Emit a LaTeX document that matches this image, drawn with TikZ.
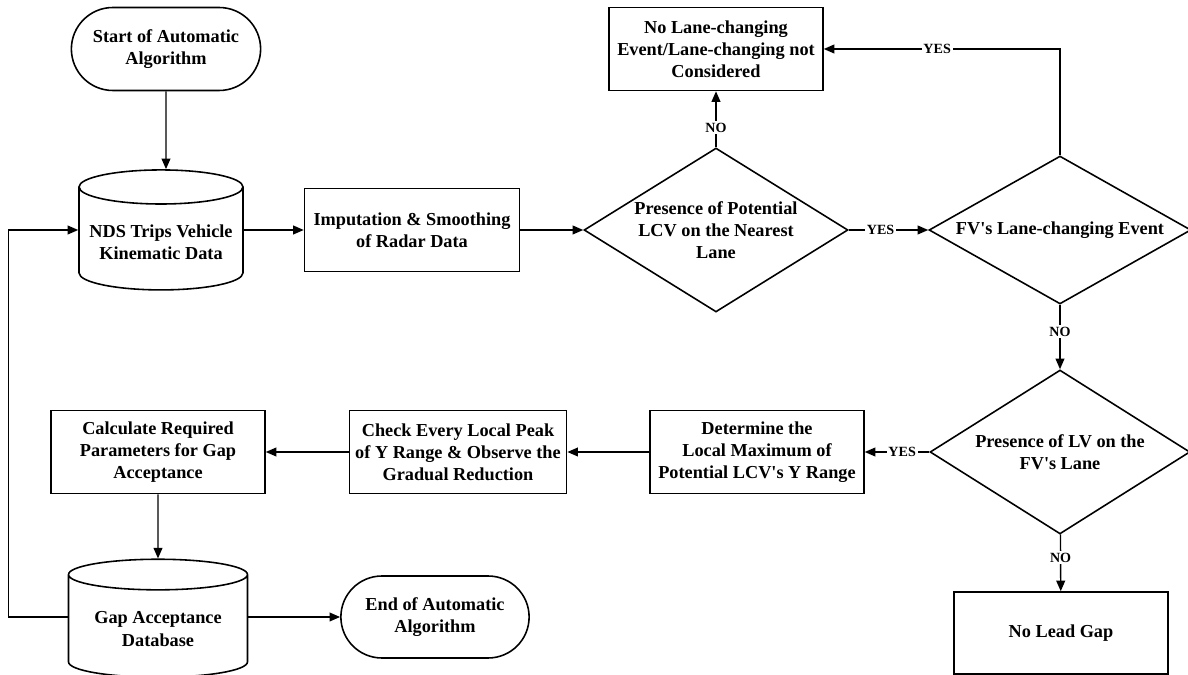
\documentclass[tikz,border=0pt]{standalone}
\usepackage{fontspec}
\setmainfont{Liberation Serif}
\usepackage{tikz}
\usetikzlibrary{shapes.geometric,shapes.misc,arrows.meta}
\tikzset{
	base/.style={draw,line width=0.9pt,align=center,font=\bfseries\fontsize{10.4}{12.6}\selectfont},
	term/.style 2 args={base,rounded rectangle,minimum width=#1,minimum height=#2},
	proc/.style 2 args={base,rectangle,minimum width=#1,minimum height=#2},
	dbase/.style 2 args={base,cylinder,shape border rotate=90,aspect=0.22,minimum width=#1,minimum height=#2},
	dec/.style n args={3}{base,diamond,inner sep=0pt,aspect=#3,minimum width=#1,minimum height=#2},
	arr/.style={line width=0.8pt,-{Triangle[length=6pt,width=5pt]}},
	lbl/.style={fill=white,inner sep=1pt,font=\bfseries\fontsize{8}{9}\selectfont}
}

\begin{document}
\begin{tikzpicture}[x=0.02cm,y=-0.02cm]
	\useasboundingbox (0,0) rectangle (1188,675);

	\node [term={4.02cm}{1.66cm}] (start) at (166, 49) {Start of Automatic\\Algorithm};
	\node [dbase={3.28cm}{2.4cm}] (nds) at (161, 242) {NDS Trips Vehicle\\Kinematic Data};
	\node [proc={4.3cm}{1.66cm}] (imput) at (412, 230) {Imputation \& Smoothing\\of Radar Data};
	\node [dec={5.28cm}{3.28cm}{1.6}] (lcv) at (716, 230) {Presence of Potential\\LCV on the Nearest\\Lane};
	\node [proc={4.28cm}{1.66cm}] (nolc) at (716, 49) {No Lane-changing\\Event/Lane-changing not\\Considered};
	\node [dec={5.24cm}{2.96cm}{1.77}] (fvlc) at (1060, 230) {FV\textquotesingle s Lane-changing Event};
	\node [dec={5.2cm}{3.28cm}{1.58}] (lv) at (1060, 452) {Presence of LV on the\\FV\textquotesingle s Lane};
	\node [proc={4.28cm}{1.64cm}] (nolead) at (1061, 633) {No Lead Gap};
	\node [proc={4.28cm}{1.66cm}] (locmax) at (757, 452) {Determine the\\Local Maximum of\\Potential LCV\textquotesingle s Y Range};
	\node [proc={4.28cm}{1.66cm}] (peak) at (458, 452) {Check Every Local Peak\\of Y Range \& Observe the\\Gradual Reduction};
	\node [proc={4.28cm}{1.66cm}] (calc) at (158, 452) {Calculate Required\\Parameters for Gap\\Acceptance};
	\node [dbase={3.58cm}{2.36cm}] (gapdb) at (158, 629) {Gap Acceptance\\Database};
	\node [term={4.0cm}{1.64cm}] (finish) at (435, 617) {End of Automatic\\Algorithm};

	\draw [arr] (start) -- (start |- nds.north);
	\draw [arr] (nds.east |- imput.west) -- (imput);
	\draw [arr] (imput) -- (lcv);
	\draw [arr] (lcv) -- node [lbl, pos=0.35] {NO} (nolc);
	\draw [arr] (lcv) -- node [lbl, pos=0.4] {YES} (fvlc);
	\draw [arr] (fvlc.north) |- node [lbl, pos=0.76] {YES} (nolc.east);
	\draw [arr] (fvlc) -- node [lbl, pos=0.42] {NO} (lv);
	\draw [arr] (lv) -- node [lbl, pos=0.42] {YES} (locmax);
	\draw [arr] (lv) -- node [lbl, pos=0.41] {NO} (nolead);
	\draw [arr] (locmax) -- (peak);
	\draw [arr] (peak) -- (calc);
	\draw [arr] (calc) -- (gapdb.north);
	\draw [arr] (gapdb.east |- finish.west) -- (finish);
	\draw [arr] (gapdb.west |- finish.west) -- ++(-59, 0) |- (nds.west |- imput.west);
\end{tikzpicture}
\end{document}
